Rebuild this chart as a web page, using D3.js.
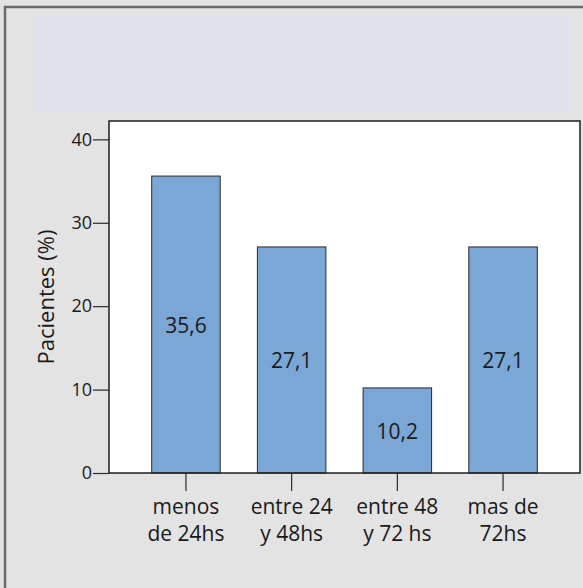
<!DOCTYPE html>
<html>
<head>
<meta charset="utf-8">
<script src="https://cdn.jsdelivr.net/npm/d3@7"></script>
<style>
  html, body { margin: 0; padding: 0; background: #e3e3e3; }
  svg { display: block; }
  text { font-family: "Open Sans", Lato, sans-serif; fill: #1a1a1a; }
</style>
</head>
<body>
<script>
// Tiempo hasta la consulta: porcentaje de pacientes por categoría
const categories = ["menos de 24hs", "entre 24 y 48hs", "entre 48 y 72 hs", "mas de 72hs"];
const categoryLines = [["menos", "de 24hs"], ["entre 24", "y 48hs"], ["entre 48", "y 72 hs"], ["mas de", "72hs"]];
const values = [35.6, 27.1, 10.2, 27.1];
const valueLabels = ["35,6", "27,1", "10,2", "27,1"];
const yTicks = [0, 10, 20, 30, 40];
const yTitle = "Pacientes (%)";

const W = 583, H = 588;
const plot = { left: 109, top: 121, right: 580, bottom: 473 };

const svg = d3.select("body").append("svg")
  .attr("width", W).attr("height", H);

// chart frame
svg.append("rect").attr("x", 0).attr("y", 0).attr("width", W).attr("height", H)
  .attr("fill", "#e3e3e3");
svg.append("path").attr("d", `M5,${H} V7 H${W}`)
  .attr("fill", "none").attr("stroke", "#6a6a6a").attr("stroke-width", 2.5);

// title band
svg.append("rect").attr("x", 35).attr("y", 16).attr("width", 534).attr("height", 96)
  .attr("fill", "#dfe1ed");

// plot background
svg.append("rect")
  .attr("x", plot.left).attr("y", plot.top)
  .attr("width", plot.right - plot.left).attr("height", plot.bottom - plot.top)
  .attr("fill", "#ffffff");

const x = d3.scaleBand()
  .domain(categories)
  .range([plot.left, plot.right])
  .paddingInner(0.352)
  .paddingOuter(0.404);

const y = d3.scaleLinear()
  .domain([0, 42.2])
  .range([plot.bottom, plot.top]);

// bars
svg.append("g").selectAll("rect")
  .data(categories)
  .join("rect")
  .attr("x", d => x(d))
  .attr("y", (d, i) => y(values[i]))
  .attr("width", x.bandwidth())
  .attr("height", (d, i) => y(0) - y(values[i]))
  .attr("fill", "#7aa7d6")
  .attr("stroke", "#2a2a2a")
  .attr("stroke-width", 1);

// value labels in the middle of each bar
svg.append("g").selectAll("text")
  .data(categories)
  .join("text")
  .attr("x", d => x(d) + x.bandwidth() / 2)
  .attr("y", (d, i) => (y(values[i]) + y(0)) / 2)
  .attr("dy", "0.4em")
  .attr("text-anchor", "middle")
  .style("font-size", "21px")
  .text((d, i) => valueLabels[i]);

// plot border
svg.append("rect")
  .attr("x", plot.left).attr("y", plot.top)
  .attr("width", plot.right - plot.left).attr("height", plot.bottom - plot.top)
  .attr("fill", "none").attr("stroke", "#1e1e1e").attr("stroke-width", 1.5);

// y axis
const yAxis = svg.append("g")
  .attr("transform", `translate(${plot.left},0)`)
  .call(d3.axisLeft(y).tickValues(yTicks).tickSize(16).tickPadding(1).tickFormat(d3.format("d")));
yAxis.select(".domain").remove();
yAxis.selectAll(".tick line").attr("stroke", "#2a2a2a").attr("stroke-width", 1.2);
yAxis.selectAll(".tick text")
  .style("font-size", "18px").style("font-family", "'Open Sans', Lato, sans-serif")
  .attr("fill", "#1a1a1a");

// x axis
const xAxis = svg.append("g")
  .attr("transform", `translate(0,${plot.bottom})`)
  .call(d3.axisBottom(x).tickSize(18).tickFormat(""));
xAxis.select(".domain").remove();
xAxis.selectAll(".tick line").attr("stroke", "#2a2a2a").attr("stroke-width", 1.2);

// two-line category labels, one text element per line
const labelRows = categories.flatMap((d, i) =>
  categoryLines[i].map((line, j) => ({ cat: d, line, row: j })));
svg.append("g").selectAll("text")
  .data(labelRows)
  .join("text")
  .attr("x", r => x(r.cat) + x.bandwidth() / 2)
  .attr("y", r => 514 + r.row * 27)
  .attr("text-anchor", "middle")
  .style("font-size", "21px")
  .text(r => r.line);

// y axis title
svg.append("text")
  .attr("transform", `translate(54,${(plot.top + plot.bottom) / 2}) rotate(-90)`)
  .attr("text-anchor", "middle")
  .style("font-size", "22px")
  .text(yTitle);
</script>
</body>
</html>
